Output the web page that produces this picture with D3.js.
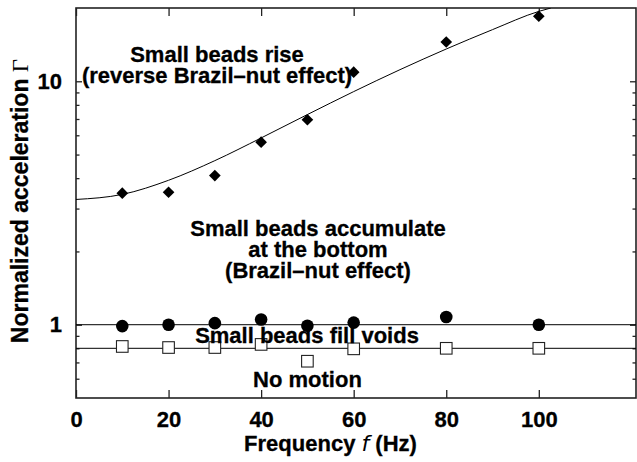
<!DOCTYPE html>
<html>
<head>
<meta charset="utf-8">
<script src="https://cdn.jsdelivr.net/npm/d3@7/dist/d3.min.js"></script>
<style>
  body { margin: 0; background: #fff; }
  text { font-family: "Liberation Sans", Arial, sans-serif; font-weight: bold; fill: #000; }
</style>
</head>
<body>
<svg id="chart" width="637" height="462"></svg>
<script>
// frequencies (Hz) where the runs were made
var freqs = [10, 20, 30, 40, 50, 60, 80, 100];
var riseVals = [3.47, 3.5, 4.1, 5.62, 6.95, 10.9, 14.5, 18.5];   // diamonds
var bnVals = [0.987, 1.0, 1.015, 1.05, 0.99, 1.02, 1.075, 1.0];   // filled circles
var voidVals = [0.814, 0.806, 0.806, 0.83, 0.708, 0.796, 0.80, 0.80]; // open squares

// fitted curve
var fitF = [0, 10, 20, 30, 40, 50, 60, 70, 80, 90, 100, 102.6];
var fitG = [3.27, 3.43, 3.92, 4.72, 5.85, 7.3, 9.07, 11.16, 13.57, 16.3, 19.37, 20];

// horizontal boundary lines
var hLines = [1.0, 0.8];

var xTicks = [0, 20, 40, 60, 80, 100];
var yMajor = [1, 10];
var yMinor = [0.6, 0.7, 0.8, 0.9, 2, 3, 4, 5, 6, 7, 8, 9];

var margin = {left: 76, top: 8, right: 1, bottom: 64};
var W = 637, H = 462;
var pw = W - margin.left - margin.right;
var ph = H - margin.top - margin.bottom;
var fs = "22px";

var svg = d3.select("#chart");
var g = svg.append("g").attr("transform", "translate(" + margin.left + "," + margin.top + ")");

var x = d3.scaleLinear().domain([0, 121]).range([0, pw]);
var y = d3.scaleLog().domain([0.5, 20]).range([ph, 0]);

svg.append("defs").append("clipPath").attr("id", "clip")
  .append("rect").attr("width", pw).attr("height", ph);

var axisColor = "#222";

// ticks (all pointing inward)
var xAxisB = d3.axisBottom(x).tickValues(xTicks).tickSize(-8).tickPadding(13).tickFormat(d3.format("d"));
var xAxisT = d3.axisTop(x).tickValues(xTicks).tickSize(-8).tickFormat("");
var yAxisL = d3.axisLeft(y).tickValues(yMajor).tickSize(-6).tickPadding(14).tickFormat(d3.format("d"));
var yAxisR = d3.axisRight(y).tickValues(yMajor).tickSize(-6).tickFormat("");
var yMinL = d3.axisLeft(y).tickValues(yMinor).tickSize(-3.5).tickFormat("");
var yMinR = d3.axisRight(y).tickValues(yMinor).tickSize(-3.5).tickFormat("");

g.append("g").attr("transform", "translate(0," + ph + ")").call(xAxisB);
g.append("g").call(xAxisT);
g.append("g").call(yAxisL);
g.append("g").attr("transform", "translate(" + pw + ",0)").call(yAxisR);
g.append("g").call(yMinL);
g.append("g").attr("transform", "translate(" + pw + ",0)").call(yMinR);

g.selectAll(".domain").remove();
g.selectAll(".tick line").attr("stroke", axisColor).attr("stroke-width", 1.3);
g.selectAll(".tick text").style("font-size", fs)
  .style("font-family", "'Liberation Sans', Arial, sans-serif")
  .style("font-weight", "bold").attr("fill", "#000")
  .attr("stroke", "#000").attr("stroke-width", 0.3);

// frame
g.append("rect").attr("width", pw).attr("height", ph)
  .attr("fill", "none").attr("stroke", axisColor).attr("stroke-width", 1.6);

var plot = g.append("g").attr("clip-path", "url(#clip)");

// horizontal lines
plot.selectAll(".hline").data(hLines).enter().append("line")
  .attr("x1", 0).attr("x2", pw)
  .attr("y1", function(d) { return y(d); })
  .attr("y2", function(d) { return y(d); })
  .attr("stroke", "#000").attr("stroke-width", 1);

// fit curve
var fitData = fitF.map(function(f, i) { return [f, fitG[i]]; });
var line = d3.line()
  .x(function(d) { return x(d[0]); })
  .y(function(d) { return y(d[1]); })
  .curve(d3.curveMonotoneX);
plot.append("path").datum(fitData)
  .attr("d", line).attr("fill", "none").attr("stroke", "#000").attr("stroke-width", 1);

// annotations
var notes = [
  {t: "Small beads rise", x: 217, y: 62},
  {t: "(reverse Brazil\u2013nut effect)", x: 217, y: 83},
  {t: "Small beads accumulate", x: 318, y: 236},
  {t: "at the bottom", x: 318, y: 257},
  {t: "(Brazil\u2013nut effect)", x: 318, y: 278},
  {t: "Small beads fill voids", x: 307, y: 343},
  {t: "No motion", x: 307.5, y: 387}
];
svg.selectAll(".note").data(notes).enter().append("text")
  .attr("x", function(d) { return d.x; })
  .attr("y", function(d) { return d.y; })
  .attr("text-anchor", "middle")
  .style("font-size", fs)
  .attr("stroke", "#000").attr("stroke-width", 0.3)
  .text(function(d) { return d.t; });

// markers
var sym = d3.symbol();
g.selectAll(".dia").data(freqs).enter().append("path")
  .attr("d", sym.type(d3.symbolSquare).size(68)())
  .attr("transform", function(d, i) { return "translate(" + x(d) + "," + y(riseVals[i]) + ") rotate(45)"; })
  .attr("fill", "#000");

g.selectAll(".circ").data(freqs).enter().append("circle")
  .attr("cx", function(d) { return x(d); })
  .attr("cy", function(d, i) { return y(bnVals[i]); })
  .attr("r", 6.3)
  .attr("fill", "#000");

g.selectAll(".sq").data(freqs).enter().append("rect")
  .attr("x", function(d) { return x(d) - 5.8; })
  .attr("y", function(d, i) { return y(voidVals[i]) - 5.8; })
  .attr("width", 11.6).attr("height", 11.6)
  .attr("fill", "#fff").attr("stroke", "#222").attr("stroke-width", 1.1);

// axis titles
var xt = svg.append("text")
  .attr("x", 330.5).attr("y", 451)
  .attr("text-anchor", "middle")
  .attr("stroke", "#000").attr("stroke-width", 0.3)
  .style("font-size", fs);
xt.append("tspan").text("Frequency ");
xt.append("tspan").style("font-style", "italic").style("font-weight", "normal")
  .attr("stroke-width", 0)
  .style("font-family", "'DejaVu Sans', sans-serif").text("f");
xt.append("tspan").text(" (Hz)");

var yt = svg.append("text")
  .attr("transform", "translate(28,201) rotate(-90)")
  .attr("text-anchor", "middle")
  .attr("stroke", "#000").attr("stroke-width", 0.3)
  .style("font-size", "23px");
yt.append("tspan").text("Normalized acceleration ");
yt.append("tspan").style("font-weight", "normal").attr("stroke-width", 0)
  .style("font-family", "'Liberation Serif', serif").text("\u0393");
</script>
</body>
</html>
